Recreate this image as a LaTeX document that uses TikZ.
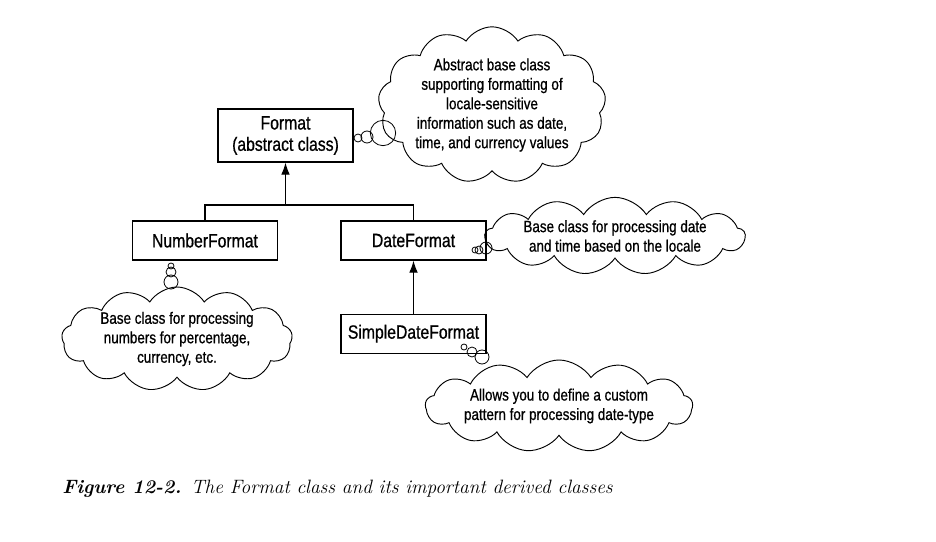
\documentclass[tikz,border=0pt]{standalone}
\usepackage{fontspec}
\usepackage{tikz}
\usetikzlibrary{positioning, arrows.meta, shapes.symbols, calc}
\newfontfamily\narrowsf[FakeStretch=0.82, FakeBold=0.8]{Liberation Sans}

\begin{document}
\begin{tikzpicture}[
    x=0.75pt, y=-0.75pt,
    node distance=39.75pt,
    cls/.style={draw, line width=0.9pt, minimum width=108.75pt, minimum height=29.25pt, text centered, font=\narrowsf\fontsize{14.4}{16}\selectfont},
    note/.style={cloud, draw, line width=0.7pt, cloud puffs=13, cloud puff arc=115, cloud ignores aspect, inner sep=0pt, align=center, font=\narrowsf\fontsize{12.3}{14.6}\selectfont},
    bubble/.style={circle, draw, line width=0.6pt, inner sep=0pt},
    line/.style={line width=0.9pt},
    arr/.style={-{Latex[length=9pt, width=6.5pt]}, line width=0.9pt}
]
\useasboundingbox (0,0) rectangle (936,542);

% class boxes
\node[cls, minimum width=101.25pt, minimum height=39.75pt, align=center] (fmt) at (285.5,135.5) {Format\\(abstract class)};
\node[cls] (number) at (205,240.5) {NumberFormat};
\node[cls] (date) at (413.5,240.5) {DateFormat};
\node[cls, below=of date] (simple) {SimpleDateFormat};

% inheritance
\coordinate (split) at (285.5,205);
\draw[line] (number.north) |- (date.north |- split) -- (date.north);
\draw[arr] (split) -- (fmt.south);
\draw[arr] (simple) -- (date);

% notes
\node[note, minimum width=161pt, minimum height=112pt] (fmtnote) at (492,105)
  {Abstract base class\\supporting formatting of\\locale-sensitive\\information such as date,\\time, and currency values};
\node[note, minimum width=195pt, minimum height=54pt] (datenote) at (615,236)
  {Base class for processing date\\and time based on the locale};
\node[note, minimum width=173pt, minimum height=78pt] (numbernote) at (177,339)
  {Base class for processing\\numbers for percentage,\\currency, etc.};
\node[note, minimum width=196pt, minimum height=69pt] (simplenote) at (559,406)
  {Allows you to define a custom\\pattern for processing date-type};

% thought bubbles
\node[bubble, minimum size=6pt] (fb1) at (358,138) {};
\node[bubble, minimum size=9pt] (fb2) at (367,137) {};
\node[bubble, minimum size=19pt] (fb3) at (383,133) {};
\node[bubble, minimum size=4.5pt] (db1) at (475,250) {};
\node[bubble, minimum size=6pt] (db2) at (479,250) {};
\node[bubble, minimum size=9pt] (db3) at (486,248) {};
\node[bubble, minimum size=4.5pt] (nb1) at (171,266) {};
\node[bubble, minimum size=7.5pt] (nb2) at (171,272) {};
\node[bubble, minimum size=10.5pt] (nb3) at (171,282) {};
\node[bubble, minimum size=4.5pt] (sb1) at (464,347) {};
\node[bubble, minimum size=7.5pt] (sb2) at (472,352) {};
\node[bubble, minimum size=10.5pt] (sb3) at (482,357) {};

% caption
\node[anchor=base west, font=\fontsize{14.5}{16}\selectfont, inner sep=0pt] (caption) at (62,493)
  {\textbf{\textit{Figure 12-2.}}\enspace\textit{The Format class and its important derived classes}};
\end{tikzpicture}
\end{document}
